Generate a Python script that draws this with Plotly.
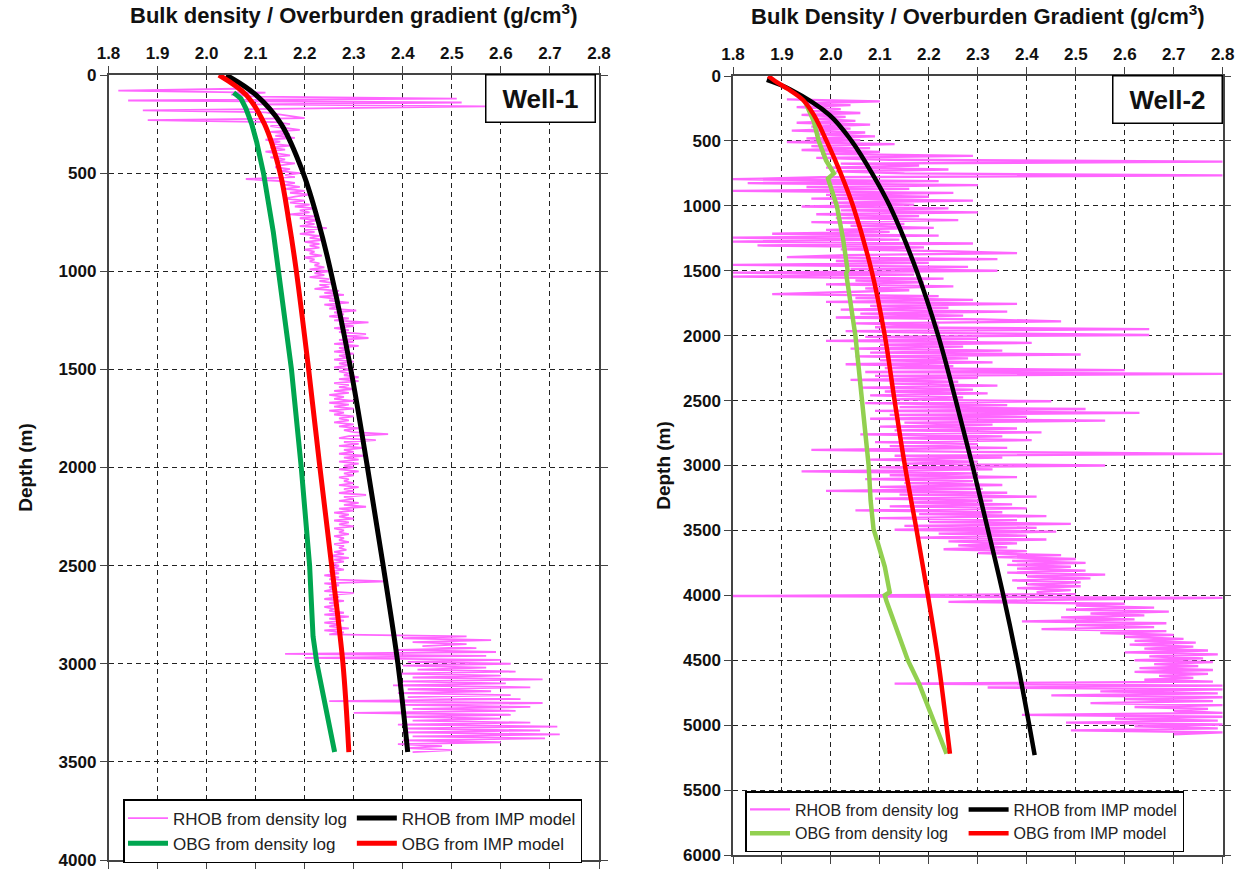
import plotly.graph_objects as go

# ======================= Well-1 =======================
W1_LOG_TOP_M = 70      # depth of first density-log sample (m)
W1_LOG_STEP_M = 10     # density-log sampling interval (m)
w1_log_rhob = [
    2.06, 1.82, 2.12, 2.05, 2.10, 2.51, 1.84, 2.52, 2.09, 2.57,    # 70-160
    2.22, 1.87, 2.12, 2.15, 2.18, 2.20, 1.88, 2.14, 2.17, 2.13,    # 170-260
    2.16, 2.19, 2.13, 2.17, 2.14, 2.18, 2.12, 2.15, 2.13, 2.17,    # 270-360
    2.13, 2.16, 2.12, 2.15, 2.17, 2.13, 2.16, 2.14, 2.18, 2.15,    # 370-460
    2.14, 2.17, 2.15, 2.19, 2.16, 2.18, 2.08, 2.15, 2.18, 2.16,    # 470-560
    2.19, 2.16, 2.20, 2.17, 2.21, 2.18, 2.16, 2.20, 2.17, 2.21,    # 570-660
    2.18, 2.22, 2.19, 2.21, 2.17, 2.22, 2.19, 2.23, 2.20, 2.22,    # 670-760
    2.19, 2.245, 2.20, 2.22, 2.19, 2.23, 2.21, 2.24, 2.20, 2.23,   # 770-860
    2.21, 2.23, 2.20, 2.22, 2.21, 2.235, 2.20, 2.22, 2.21, 2.23,   # 870-960
    2.22, 2.24, 2.21, 2.25, 2.22, 2.24, 2.21, 2.25, 2.23, 2.26,    # 970-1060
    2.23, 2.25, 2.22, 2.27, 2.24, 2.28, 2.23, 2.26, 2.25, 2.29,    # 1070-1160
    2.24, 2.27, 2.25, 2.305, 2.26, 2.28, 2.25, 2.29, 2.26, 2.33,   # 1170-1260
    2.27, 2.30, 2.26, 2.29, 2.27, 2.325, 2.28, 2.33, 2.27, 2.30,   # 1270-1360
    2.26, 2.31, 2.27, 2.29, 2.26, 2.30, 2.27, 2.29, 2.26, 2.30,    # 1370-1460
    2.27, 2.29, 2.26, 2.30, 2.27, 2.29, 2.28, 2.31, 2.27, 2.31,    # 1470-1560
    2.26, 2.29, 2.27, 2.30, 2.26, 2.29, 2.25, 2.28, 2.26, 2.30,    # 1570-1660
    2.25, 2.29, 2.26, 2.30, 2.25, 2.28, 2.26, 2.30, 2.27, 2.29,    # 1670-1760
    2.26, 2.30, 2.27, 2.31, 2.28, 2.30, 2.37, 2.29, 2.27, 2.345,   # 1770-1860
    2.28, 2.31, 2.27, 2.32, 2.28, 2.30, 2.27, 2.32, 2.28, 2.31,    # 1870-1960
    2.27, 2.31, 2.28, 2.30, 2.27, 2.31, 2.28, 2.30, 2.27, 2.29,    # 1970-2060
    2.28, 2.30, 2.27, 2.31, 2.28, 2.30, 2.27, 2.325, 2.28, 2.30,   # 2070-2160
    2.27, 2.31, 2.28, 2.325, 2.27, 2.30, 2.26, 2.29, 2.27, 2.30,   # 2170-2260
    2.26, 2.29, 2.27, 2.30, 2.26, 2.28, 2.27, 2.29, 2.26, 2.28,    # 2270-2360
    2.27, 2.29, 2.26, 2.28, 2.27, 2.285, 2.26, 2.28, 2.25, 2.29,   # 2370-2460
    2.26, 2.28, 2.25, 2.27, 2.26, 2.28, 2.25, 2.27, 2.24, 2.27,    # 2470-2560
    2.25, 2.37, 2.24, 2.27, 2.25, 2.26, 2.24, 2.30, 2.25, 2.27,    # 2570-2660
    2.24, 2.28, 2.25, 2.27, 2.24, 2.26, 2.25, 2.28, 2.24, 2.29,    # 2670-2760
    2.25, 2.28, 2.24, 2.27, 2.25, 2.29, 2.24, 2.28, 2.25, 2.53,    # 2770-2860
    2.40, 2.58, 2.42, 2.53, 2.44, 2.55, 2.39, 2.59, 2.16, 2.57,    # 2870-2960
    2.20, 2.60, 2.41, 2.62, 2.40, 2.57, 2.43, 2.63, 2.39, 2.60,    # 2970-3060
    2.42, 2.685, 2.40, 2.61, 2.38, 2.66, 2.41, 2.58, 2.39, 2.62,   # 3070-3160
    2.41, 2.64, 2.25, 2.685, 2.40, 2.66, 2.42, 2.63, 2.30, 2.62,   # 3170-3260
    2.40, 2.60, 2.42, 2.66, 2.39, 2.715, 2.41, 2.68, 2.40, 2.72,   # 3270-3360
    2.42, 2.69, 2.40, 2.60, 2.39, 2.48, 2.41, 2.50, 2.42,          # 3370-3450
]
w1_log_depth = [W1_LOG_TOP_M + W1_LOG_STEP_M * i for i in range(len(w1_log_rhob))]

w1_imp_depth = [0, 100, 250, 500, 750, 1000, 1500, 2000, 2500, 3000, 3450]
w1_imp_rhob = [2.04, 2.10, 2.152, 2.197, 2.228, 2.253, 2.294, 2.328, 2.360, 2.39, 2.41]
w1_imp_obg = [2.025, 2.08, 2.118, 2.15, 2.168, 2.183, 2.208, 2.231, 2.255, 2.278, 2.29]

w1_obg_log_depth = [90, 120, 170, 250, 340, 500, 800, 1000, 1500, 2000, 2500, 2860, 3000, 3450]
w1_obg_log = [2.055, 2.07, 2.08, 2.092, 2.102, 2.116, 2.136, 2.147, 2.173, 2.193, 2.21, 2.217,
              2.225, 2.261]

# ======================= Well-2 =======================
W2_LOG_TOP_M = 180
W2_LOG_STEP_M = 15
w2_log_rhob = [
    1.91, 2.10, 1.95, 2.04, 1.93, 2.02, 1.96, 2.06, 1.94, 2.03,    # 180-315
    1.97, 2.05, 1.93, 2.08, 1.96, 2.04, 1.92, 2.07, 1.97, 2.09,    # 330-465
    1.95, 2.06, 1.91, 2.13, 1.96, 2.08, 1.94, 2.10, 1.98, 2.29,    # 480-615
    1.97, 2.12, 2.80, 2.02, 2.18, 1.99, 2.24, 2.01, 2.15, 2.80,    # 630-765
    1.98, 1.80, 2.22, 1.83, 2.30, 1.95, 2.16, 1.80, 2.25, 1.99,    # 780-915
    2.20, 1.96, 2.29, 2.00, 2.17, 1.94, 2.24, 2.02, 2.30, 1.97,    # 930-1065
    2.18, 2.01, 2.26, 1.96, 2.15, 2.04, 2.21, 1.99, 2.12, 1.88,    # 1080-1215
    2.22, 1.80, 2.14, 1.80, 2.29, 1.85, 2.19, 2.02, 2.25, 2.38,    # 1230-1365
    2.03, 1.91, 2.34, 2.01, 2.20, 1.80, 2.28, 2.04, 2.34, 1.80,    # 1380-1515
    2.17, 1.80, 2.23, 2.05, 2.19, 1.99, 2.25, 2.07, 2.16, 2.01,    # 1530-1665
    1.88, 2.22, 2.05, 2.29, 1.99, 2.38, 2.08, 2.24, 2.02, 2.36,    # 1680-1815
    2.06, 2.27, 2.01, 2.31, 2.47, 2.05, 2.22, 2.09, 2.65, 2.03,    # 1830-1965
    2.24, 2.65, 2.07, 2.30, 1.99, 2.41, 2.10, 2.27, 2.04, 2.35,    # 1980-2115
    2.08, 2.51, 2.05, 2.28, 2.10, 2.33, 2.03, 2.25, 2.11, 2.60,    # 2130-2265
    2.07, 2.80, 2.09, 2.30, 2.04, 2.26, 2.12, 2.34, 2.06, 2.29,    # 2280-2415
    2.11, 2.32, 2.08, 2.27, 2.13, 2.45, 2.07, 2.36, 2.14, 2.52,    # 2430-2565
    2.09, 2.63, 2.12, 2.40, 2.08, 2.56, 2.15, 2.33, 2.10, 2.38,    # 2580-2715
    2.13, 2.43, 2.06, 2.35, 2.14, 2.41, 2.09, 2.30, 2.12, 2.36,    # 2730-2865
    1.96, 2.28, 2.80, 2.13, 2.35, 2.08, 2.30, 2.15, 2.56, 2.10,    # 2880-3015
    2.33, 1.94, 2.30, 2.12, 2.38, 2.07, 2.29, 2.15, 2.35, 2.10,    # 3030-3165
    2.31, 1.99, 2.36, 2.14, 2.42, 2.09, 2.33, 2.16, 2.37, 2.12,    # 3180-3315
    2.40, 2.05, 2.35, 2.18, 2.44, 2.10, 2.38, 2.20, 2.49, 2.15,    # 3330-3465
    2.42, 2.13, 2.46, 2.22, 2.40, 2.18, 2.44, 2.24, 2.38, 2.26,    # 3480-3615
    2.36, 2.23, 2.40, 2.30, 2.47, 2.34, 2.50, 2.37, 2.52, 2.36,    # 3630-3765
    2.49, 2.38, 2.52, 2.36, 2.56, 2.40, 2.53, 2.37, 2.51, 2.40,    # 3780-3915
    2.51, 2.38, 2.49, 2.42, 2.50, 1.80, 2.80, 2.45, 2.24, 2.60,    # 3930-4065
    2.50, 2.66, 2.48, 2.69, 2.53, 2.64, 2.47, 2.62, 2.39, 2.685,   # 4080-4215
    2.50, 2.66, 2.43, 2.685, 2.55, 2.70, 2.60, 2.72, 2.62, 2.745,  # 4230-4365
    2.61, 2.74, 2.64, 2.77, 2.60, 2.79, 2.65, 2.76, 2.62, 2.78,    # 4380-4515
    2.66, 2.75, 2.63, 2.78, 2.62, 2.77, 2.67, 2.74, 2.64, 2.78,    # 4530-4665
    2.13, 2.80, 2.32, 2.80, 2.55, 2.79, 2.45, 2.80, 2.60, 2.78,    # 4680-4815
    2.53, 2.80, 2.62, 2.77, 2.70, 2.80, 2.39, 2.80, 2.58, 2.79,    # 4830-4965
    2.48, 2.80, 2.62, 2.79, 2.49, 2.80, 2.70,                      # 4980-5070
]
w2_log_depth = [W2_LOG_TOP_M + W2_LOG_STEP_M * i for i in range(len(w2_log_rhob))]

w2_imp_rhob_depth = [30, 100, 300, 500, 750, 1000, 1500, 2000, 2500, 3000, 3500, 4000, 4500,
                     5000, 5230]
w2_imp_rhob = [1.869, 1.915, 1.997, 2.042, 2.084, 2.12, 2.175, 2.219, 2.255, 2.289, 2.321,
               2.352, 2.38, 2.405, 2.416]
w2_imp_obg_depth = [0, 50, 100, 185, 300, 500, 750, 1000, 1500, 2000, 2500, 3000, 3500, 4000, 4500,
                    5000, 5220]
w2_imp_obg = [1.872, 1.89, 1.912, 1.943, 1.965, 1.991, 2.02, 2.045, 2.083, 2.11, 2.13, 2.151, 2.175,
              2.198, 2.219, 2.236, 2.243]
w2_obg_log_depth = [180, 350, 500, 650, 750, 790, 1000, 1260, 1495, 1520, 2000, 2500, 3000, 3270,
                    3490, 3575, 3780, 3975, 4000, 4040, 4500, 4680, 5000, 5220]
w2_obg_log = [1.945, 1.965, 1.975, 1.99, 2.006, 1.994, 2.012, 2.025, 2.034, 2.031, 2.05, 2.063,
              2.077, 2.081, 2.087, 2.094, 2.11, 2.12, 2.11, 2.113, 2.157, 2.18, 2.214, 2.236]

x_tick_vals = [1.8, 1.9, 2.0, 2.1, 2.2, 2.3, 2.4, 2.5, 2.6, 2.7, 2.8]
x_title_1 = "Bulk density / Overburden gradient (g/cm<sup>3</sup>)"
x_title_2 = "Bulk Density / Overburden Gradient (g/cm<sup>3</sup>)"
y_title = "Depth (m)"
legend_names = ["RHOB from density log", "OBG from density log", "RHOB from IMP model",
                "OBG from IMP model"]

# ======================= styling =======================
W, H = 1246, 871
MAGENTA = "#ff66ff"
GREEN1 = "#00a650"
GREEN2 = "#92d050"
RED = "#ff0000"
BLACK = "#000000"

fig = go.Figure()


def add_well(xa, ya, leg, log_d, log_v, obg_d, obg_v, imp_rd, imp_r, imp_od, imp_o, green, lw,
             log_w):
    fig.add_trace(go.Scatter(x=log_v, y=log_d, xaxis=xa, yaxis=ya, mode="lines",
                             line=dict(color=MAGENTA, width=log_w), name=legend_names[0],
                             legend=leg, legendgroup="log", legendrank=1))
    fig.add_trace(go.Scatter(x=obg_v, y=obg_d, xaxis=xa, yaxis=ya, mode="lines",
                             line=dict(color=green, width=lw), name=legend_names[1],
                             legend=leg, legendgroup="log", legendrank=2))
    fig.add_trace(go.Scatter(x=imp_r, y=imp_rd, xaxis=xa, yaxis=ya, mode="lines",
                             line=dict(color=BLACK, width=lw, shape="spline"), name=legend_names[2],
                             legend=leg, legendgroup="imp", legendrank=3))
    fig.add_trace(go.Scatter(x=imp_o, y=imp_od, xaxis=xa, yaxis=ya, mode="lines",
                             line=dict(color=RED, width=lw, shape="spline"), name=legend_names[3],
                             legend=leg, legendgroup="imp", legendrank=4))


add_well("x", "y", "legend", w1_log_depth, w1_log_rhob, w1_obg_log_depth, w1_obg_log,
         w1_imp_depth, w1_imp_rhob, w1_imp_depth, w1_imp_obg, GREEN1, 5, 1.8)
add_well("x2", "y2", "legend2", w2_log_depth, w2_log_rhob, w2_obg_log_depth, w2_obg_log,
         w2_imp_rhob_depth, w2_imp_rhob, w2_imp_obg_depth, w2_imp_obg, GREEN2, 4.5, 2.3)

TICK_FONT = dict(family="Liberation Sans, Arial", size=17, color="#111", weight="bold")
TITLE_FONT = dict(family="Liberation Sans, Arial", size=22, color="#111", weight="bold")
YTITLE_FONT = dict(family="Liberation Sans, Arial", size=19, color="#111", weight="bold")
LEGEND_FONT = dict(family="Liberation Sans, Arial", size=17, color="#222")

axis_common = dict(showline=True, linecolor="#444", linewidth=1.5, mirror="allticks",
                   ticks="outside", ticklen=7, tickwidth=1.2, tickcolor="#444",
                   showgrid=True, gridcolor="#222", gridwidth=1.4, griddash="5px,4px",
                   zeroline=False, tickfont=TICK_FONT, automargin=False,
                   ticklabeloverflow="allow")


def px_x(p):
    return p / W


def px_y(p):
    return 1 - p / H


fig.update_layout(
    width=W, height=H, margin=dict(l=0, r=0, t=0, b=0),
    paper_bgcolor="white", plot_bgcolor="white", showlegend=True,
    xaxis=dict(axis_common, domain=[px_x(108.5), px_x(599)], range=[1.8, 2.8], side="top",
               tickvals=x_tick_vals, tickformat=".1f", anchor="y",
               title=dict(text=x_title_1, font=TITLE_FONT, standoff=16)),
    yaxis=dict(axis_common, domain=[px_y(860), px_y(75)], range=[4000, 0], dtick=500, tick0=0,
               anchor="x", title=dict(text=y_title, font=YTITLE_FONT, standoff=21)),
    xaxis2=dict(axis_common, domain=[px_x(733), px_x(1222.7)], range=[1.8, 2.8], side="top",
                tickvals=x_tick_vals, tickformat=".1f", anchor="y2",
                title=dict(text=x_title_2, font=TITLE_FONT, standoff=15)),
    yaxis2=dict(axis_common, domain=[px_y(855), px_y(76)], range=[6000, 0], dtick=500, tick0=0,
                anchor="x2", title=dict(text=y_title, font=YTITLE_FONT, standoff=7)),
    legend=dict(x=px_x(123), y=px_y(799), xanchor="left", yanchor="top", orientation="h",
                traceorder="grouped", bgcolor="white", bordercolor="black", borderwidth=1.5,
                font=LEGEND_FONT, itemwidth=40, tracegroupgap=0),
    legend2=dict(x=px_x(745), y=px_y(791), xanchor="left", yanchor="top", orientation="h",
                 traceorder="grouped", bgcolor="white", bordercolor="black", borderwidth=1.5,
                 font=dict(LEGEND_FONT, size=16), itemwidth=40, tracegroupgap=0),
)

for txt, xr, yt in [("Well-1", 596, 74), ("Well-2", 1223, 75)]:
    fig.add_annotation(text="<b>%s</b>" % txt, xref="paper", yref="paper", x=px_x(xr), y=px_y(yt),
                       xanchor="right", yanchor="top", showarrow=False,
                       font=dict(family="Liberation Sans, Arial", size=26, color="#111"),
                       bgcolor="white", bordercolor="black", borderwidth=1.5, borderpad=2,
                       width=104, height=42)

# remove the browser's default 8px page margin so the figure fills the window exactly
fig.write_html("out.html", config={"displayModeBar": False},
               post_script="document.body.style.margin='0px';")
